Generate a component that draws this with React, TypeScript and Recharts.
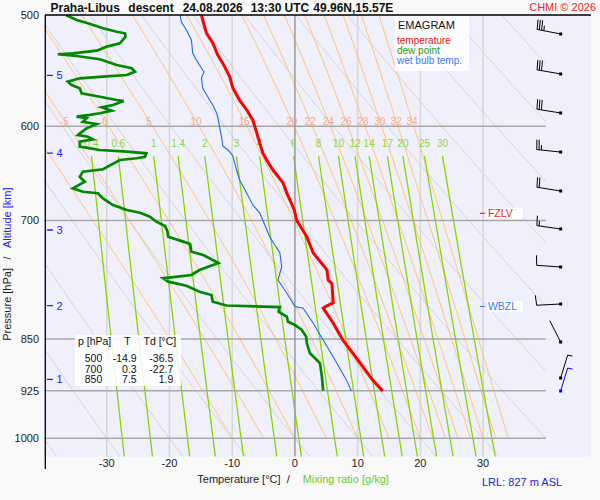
import React from 'react';
import { ComposedChart, Scatter, XAxis, YAxis, CartesianGrid } from 'recharts';

const FONT = '"Liberation Sans", Arial, Helvetica, sans-serif';
const W = 600;
const H = 500;

// sounding, temperature [hPa / °C]
const tempP = [500, 508, 515, 523.5, 534, 541, 553, 563.5, 575, 584, 594, 604, 617, 627, 634, 644.5, 658, 669, 688, 700, 719, 738, 759, 772, 776, 801, 805, 808, 828, 851, 884, 909, 925.5];
const tempT = [-14.9, -14.5, -14.1, -13.1, -12.3, -11.5, -10.4, -9.9, -8.8, -7.7, -6.7, -6.2, -5.6, -5.1, -4.5, -3.5, -1.9, -1.3, -0.1, 0.3, 1.9, 2.9, 5.1, 5.3, 5.9, 6.1, 5.1, 4.5, 6.1, 7.6, 10.4, 12.4, 14.0];

// dew point
const dewP = [500, 504.1, 506.8, 511.0, 513.9, 515.2, 518.1, 523.7, 526.6, 530.1,
  532.4, 533.2, 534.7, 537.6, 542.7, 545.6, 548.7, 551.6, 553.1, 554.6,
  557.7, 560.7, 563.8, 568.4, 571.6, 574.7, 575.6, 579.4, 581.6, 584.8,
  587.3, 588.9, 590.6, 592.1, 595.5, 597.7, 602.0, 606.9, 608.6, 610.3,
  612.9, 615.3, 620.3, 623.7, 625.4, 627.1, 630.6, 632.2, 634.0, 643.7,
  646.2, 651.6, 656.9, 664.1, 667.8, 669.5, 675.1, 682.5, 688.1, 691.2,
  695.7, 701.4, 706.4, 713.0, 718.8, 724.7, 727.5, 736.8, 740.7, 750.5,
  759.2, 765.4, 769.5, 773.8, 778.9, 786.6, 790.9, 799.6, 804.6, 806.6,
  812.8, 819.5, 826.2, 830.7, 837.5, 846.8, 856.0, 870.1, 879.6, 884.4,
  904.0, 925.0];
const dewT = [-36.5, -34.8, -33.0, -30.6, -28.4, -27.1, -27.0, -27.9, -30.0, -31.6,
  -35.4, -37.8, -34.8, -31.1, -28.4, -26.0, -25.5, -26.8, -30.6, -34.3,
  -36.2, -35.6, -34.3, -34.0, -31.1, -28.4, -27.3, -29.0, -30.8, -29.2,
  -31.1, -32.7, -34.8, -33.2, -33.8, -31.6, -33.2, -34.3, -34.6, -33.0,
  -32.2, -34.3, -34.3, -31.1, -26.8, -23.7, -23.9, -25.2, -27.9, -30.6,
  -33.8, -34.3, -33.5, -35.4, -33.8, -31.4, -30.6, -29.0, -26.8, -24.7,
  -23.1, -22.1, -20.7, -20.3, -20.2, -17.8, -16.7, -16.5, -14.6, -12.2,
  -15.2, -16.5, -21.0, -20.2, -17.3, -15.2, -13.3, -13.1, -10.9, -2.4,
  -2.6, -1.3, -1.1, 0.0, 1.1, 1.8, 1.9, 2.4, 3.5, 4.0,
  4.3, 4.5];

// wet bulb temperature
const wetP = [500, 505.8, 512.4, 520.9, 532.1, 538.2, 548.9, 554.3, 563.5, 573.7,
  579.4, 588, 600.6, 610.6, 619.6, 624.7, 629.9, 644.5, 655.1, 669.2,
  682.5, 691.5, 705.2, 719.2, 728.7, 738.3, 755.4, 771.6, 788.3, 805.9,
  808.2, 828, 851.3, 879.6, 908.8, 925.5];
const wetT = [-18.3, -18.1, -17.3, -16.5, -16.3, -15.7, -14.5, -14.9, -14.7, -13.7,
  -13.1, -12.4, -12.0, -11.7, -11.5, -10.5, -9.9, -9.3, -8.8, -7.7,
  -6.7, -5.6, -4.8, -4.0, -3.2, -2.4, -2.1, -2.7, -1.3, 0,
  1.3, 2.9, 4.5, 6.4, 8.2, 9.0];

// wind (pressure, direction deg, speed kt); last one is the launch level
const windP = [515.8, 550.7, 587, 625.8, 667, 709.8, 755.4, 802.6, 854.1, 906, 925.5];
const windDir = [281, 280, 279, 276, 279, 278, 274, 267, 333, 17, 17];
const windSpd = [35, 30, 30, 25, 20, 15, 10, 10, 2, 5, 5];

// altitude marks [km] and their pressure
const altKm = [1, 2, 3, 4, 5];
const altP = [907.9, 804.8, 711, 626.8, 551.9];

// freezing level, wet bulb zero level
const levelNames = ['FZLV', 'WBZL'];
const levelP = [691.8, 805.9];

// table
const tableP = [500, 700, 850];
const tableT = ['-14.9', '0.3', '7.5'];
const tableTd = ['-36.5', '-22.7', '1.9'];

// axes and diagram grid
const tempTicks = [-30, -20, -10, 0, 10, 20, 30];
const pressureTicks = [500, 600, 700, 850, 925, 1000];
const isobars = [600, 700, 850, 925, 1000];
const isotherms = [-30, -20, -10, 10, 20, 30];
const dryThetas = [-40, -30, -20, -10, 0, 10, 20, 30, 40, 50, 60, 70, 80, 90, 100];
const moistThetas = [-10, -5, 0, 5, 10, 15, 20, 22, 24, 26, 28, 30, 32, 34];
const mixRatios = [0.4, 0.6, 1, 1.4, 2, 3, 4, 6, 8, 10, 12, 14, 17, 20, 25, 30];

const T_MIN = -40;
const T_MAX = 47.2;
const T_EDGE = 40;
const P_TOP = 500;
const P_BOT = 1030.6;
const BARB_T = 42.36;
const ALT_T = -39.53;
const LEVEL_T = 29.49;
const MOIST_LABEL_P = 594.7;
const MIX_LABEL_P = 616.5;

type Pt = { t: number; p: number };

const zip = (ps: number[], ts: number[]): Pt[] => ps.map((p, i) => ({ p, t: ts[i] }));

function clipT(pts: Pt[], lo: number, hi: number): Pt[] {
  const out: Pt[] = [];
  for (let i = 0; i < pts.length; i++) {
    const a = pts[i];
    const inA = a.t >= lo && a.t <= hi;
    if (i > 0) {
      const b = pts[i - 1];
      const inB = b.t >= lo && b.t <= hi;
      if (inA !== inB) {
        const o = inA ? b : a;
        const edge = o.t < lo ? lo : hi;
        const f = (edge - b.t) / (a.t - b.t);
        out.push({ t: edge, p: b.p + f * (a.p - b.p) });
      }
    }
    if (inA) out.push(a);
  }
  return out;
}

function dryAdiabat(thC: number): Pt[] {
  const pts: Pt[] = [];
  for (let p = P_TOP; p < P_BOT; p += 10) pts.push({ p, t: (thC + 273.15) * Math.pow(p / 1000, 0.2857) - 273.15 });
  pts.push({ p: P_BOT, t: (thC + 273.15) * Math.pow(P_BOT / 1000, 0.2857) - 273.15 });
  return clipT(pts, T_MIN, T_EDGE);
}

function moistRate(T: number, p: number) {
  const es = 6.112 * Math.exp((17.67 * (T - 273.15)) / (T - 29.65));
  const rs = (0.622 * es) / (p - es);
  return (287.04 * T + 2.501e6 * rs) / (p * (1005.7 + (2.501e6 * 2.501e6 * rs * 0.622) / (287.04 * T * T)));
}

function moistAdiabat(twC: number): Pt[] {
  const pts: Pt[] = [{ p: 1000, t: twC }];
  let T = twC + 273.15;
  let p = 1000;
  const dp = -5;
  while (p > P_TOP + 0.1) {
    const k1 = moistRate(T, p);
    const k2 = moistRate(T + (k1 * dp) / 2, p + dp / 2);
    T += k2 * dp;
    p += dp;
    if (Math.round(p) % 10 === 0) pts.push({ p, t: T - 273.15 });
  }
  return pts;
}

function mixTd(w: number, p: number) {
  const e = (w * p) / (622 + w);
  const l = Math.log(e / 6.112);
  return (243.5 * l) / (17.67 - l);
}

function mixLine(w: number): Pt[] {
  const pts: Pt[] = [];
  for (let p = 630; p < P_BOT; p += 20) pts.push({ p, t: mixTd(w, p) });
  pts.push({ p: P_BOT, t: mixTd(w, P_BOT) });
  return pts;
}

function tAt(pts: Pt[], p: number) {
  for (let i = 1; i < pts.length; i++) {
    const a = pts[i - 1];
    const b = pts[i];
    if ((a.p - p) * (b.p - p) <= 0) return a.t + ((p - a.p) / (b.p - a.p)) * (b.t - a.t);
  }
  return NaN;
}

const dryLines = dryThetas.map(dryAdiabat);
const moistRaw = moistThetas.map(moistAdiabat);
const moistLines = moistRaw.map((c) => clipT(c, T_MIN, T_EDGE));
const mixLines = mixRatios.map(mixLine);

const moistLabels = moistThetas
  .map((th, i) => ({ t: tAt(moistRaw[i], MOIST_LABEL_P), p: MOIST_LABEL_P, label: String(th) }))
  .filter((d) => d.t > -39 && d.t < 40);
const mixLabels = mixRatios.map((w) => ({ t: mixTd(w, 630), p: MIX_LABEL_P, label: String(w) }));

const tempLine = zip(tempP, tempT);
const dewLine = zip(dewP, dewT);
const wetLine = zip(wetP, wetT);
const windData = windP.map((p, i) => ({ p, t: BARB_T, dir: windDir[i], spd: windSpd[i], surface: i === windP.length - 1 }));
const altData = altP.map((p, i) => ({ p, t: ALT_T, km: altKm[i] }));
const levelData = levelP.map((p, i) => ({ p, t: LEVEL_T, name: levelNames[i], color: i === 0 ? '#ff2020' : '#3a78ff' }));

const noDot = () => <g />;

const textShape = (color: string, size: number) => (props: any) => {
  if (props.cx == null) return <g />;
  return (
    <text x={props.cx} y={props.cy + size * 0.36} textAnchor="middle" fontSize={size} fill={color} fontFamily={FONT}>
      {props.payload.label}
    </text>
  );
};

const altShape = (props: any) => (
  <g>
    <line x1={props.cx} y1={props.cy} x2={props.cx + 6} y2={props.cy} stroke="#2020ff" strokeWidth={1.3} />
    <text x={props.cx + 9.5} y={props.cy + 3.9} fontSize={11} fill="#2020ff" fontFamily={FONT}>
      {props.payload.km}
    </text>
  </g>
);

const levelShape = (props: any) => {
  const { cx, cy, payload } = props;
  return (
    <g>
      <line x1={cx} y1={cy} x2={cx + 5} y2={cy} stroke={payload.color} strokeWidth={1.2} />
      <rect x={cx + 7} y={cy - 5.5} width={36} height={11} fill="#ffffff" />
      <text x={cx + 8} y={cy + 3.7} fontSize={10.5} fill={payload.color} fontFamily={FONT}>
        {payload.name}
      </text>
    </g>
  );
};

const windShape = (props: any) => {
  const { cx, cy, payload } = props;
  if (cx == null) return <g />;
  const color = payload.surface ? '#0000ff' : '#000000';
  const a = (payload.dir * Math.PI) / 180;
  const ux = Math.sin(a);
  const uy = -Math.cos(a);
  const tx = cx + 24 * ux;
  const ty = cy + 24 * uy;
  const b = ((payload.dir + 85) * Math.PI) / 180;
  const bx = Math.sin(b);
  const by = -Math.cos(b);
  const segs: React.ReactNode[] = [];
  let rest = payload.spd;
  let k = 0;
  while (rest >= 7.5) {
    const px = tx - k * 2.3 * ux;
    const py = ty - k * 2.3 * uy;
    segs.push(<line key={'f' + k} x1={px} y1={py} x2={px + 10 * bx} y2={py + 10 * by} />);
    rest -= 10;
    k++;
  }
  if (rest >= 2.5) {
    const px = tx - k * 2.3 * ux;
    const py = ty - k * 2.3 * uy;
    segs.push(<line key="h" x1={px} y1={py} x2={px + 5 * bx} y2={py + 5 * by} />);
  }
  return (
    <g stroke={color} strokeWidth={1} fill="none">
      <line x1={cx} y1={cy} x2={tx} y2={ty} />
      {segs}
      <rect x={cx - 1.5} y={cy - 1.5} width={3} height={3} fill={color} stroke="none" />
    </g>
  );
};

const renderXTick = (props: any) => (
  <text x={props.x} y={466.6} textAnchor="middle" fontSize={11} fill="#222" fontFamily={FONT}>
    {props.payload.value}
  </text>
);

const renderYTick = (props: any) => (
  <text x={39} y={props.y + 3.9} textAnchor="end" fontSize={11} fill="#222" fontFamily={FONT}>
    {props.payload.value}
  </text>
);

function curve(key: string, data: any[], stroke: string, width: number) {
  return (
    <Scatter
      key={key}
      data={data}
      line={{ stroke, strokeWidth: width }}
      shape={noDot}
      legendType="none"
      isAnimationActive={false}
    />
  );
}

export default function App() {
  return (
    <div style={{ position: 'absolute', left: 0, top: 0, width: W, height: H, background: '#f9f9f9', fontFamily: FONT }}>
      <ComposedChart width={W} height={H} margin={{ top: 15, right: 9, bottom: 0, left: 0 }}>
        <CartesianGrid horizontal={false} vertical={false} fill="#f0f0fc" stroke="none" />
        <XAxis
          type="number"
          dataKey="t"
          domain={[T_MIN, T_MAX]}
          allowDataOverflow
          ticks={tempTicks}
          interval={0}
          height={43.3}
          axisLine={false}
          tickLine={false}
          tickSize={0}
          tick={renderXTick}
        />
        <YAxis
          type="number"
          dataKey="p"
          scale="log"
          domain={[P_TOP, P_BOT]}
          allowDataOverflow
          reversed
          ticks={pressureTicks}
          interval={0}
          width={44}
          axisLine={false}
          tickLine={false}
          tickSize={0}
          tick={renderYTick}
        />
        {isotherms.map((t) => curve('it' + t, [{ t, p: P_TOP }, { t, p: P_BOT }], '#d6d6d6', 1.5))}
        {dryLines.map((d, i) => curve('dry' + i, d, '#d4d4d4', 1))}
        {moistLines.map((d, i) => curve('moist' + i, d, '#ffc27a', 1))}
        {mixLines.map((d, i) => curve('mix' + i, d, '#88d400', 1.3))}
        {isobars.map((p) => curve('ib' + p, [{ t: T_MIN, p }, { t: T_EDGE, p }], '#a8a8a8', 1.5))}
        {curve('zero', [{ t: 0, p: P_TOP }, { t: 0, p: P_BOT }], '#999999', 1.5)}
        <Scatter data={moistLabels} shape={textShape('#f5a98c', 10)} legendType="none" isAnimationActive={false} />
        <Scatter data={mixLabels} shape={textShape('#8fd43a', 10)} legendType="none" isAnimationActive={false} />
        {curve('wet', wetLine, '#2266ee', 1.1)}
        {curve('dew', dewLine, '#008800', 2.7)}
        {curve('temp', tempLine, '#ff0000', 3)}
        <Scatter data={levelData} shape={levelShape} legendType="none" isAnimationActive={false} />
        <Scatter data={altData} shape={altShape} legendType="none" isAnimationActive={false} />
        <Scatter data={windData} shape={windShape} legendType="none" isAnimationActive={false} />
      </ComposedChart>

      <svg width={W} height={H} style={{ position: 'absolute', left: 0, top: 0, pointerEvents: 'none' }} fontFamily={FONT}>
        <line x1={45} y1={15} x2={591} y2={15} stroke="#000" strokeWidth={1.3} />
        <line x1={45.3} y1={15} x2={45.3} y2={469} stroke="#000" strokeWidth={1.3} />

        <g fontSize={12} fontWeight="bold" fill="#111">
          <text x={50.5} y={11.6}>Praha-Libus</text>
          <text x={128.3} y={11.6}>descent</text>
          <text x={182.7} y={11.6}>24.08.2026</text>
          <text x={250.7} y={11.6}>13:30</text>
          <text x={284.5} y={11.6}>UTC</text>
          <text x={313.3} y={11.6}>49.96N,15.57E</text>
        </g>
        <text x={596} y={10.6} textAnchor="end" fontSize={11} fill="#ff2020">CHMI © 2026</text>

        <rect x={395} y={16} width={74} height={55} fill="#ffffff" fillOpacity={0.85} />
        <text x={398} y={29.4} fontSize={11} fill="#111">EMAGRAM</text>
        <text x={397} y={44} fontSize={10} fill="#ff1010">temperature</text>
        <text x={397} y={54} fontSize={10} fill="#1a9a1a">dew point</text>
        <text x={397} y={64} fontSize={10} fill="#3a78ff">wet bulb temp.</text>

        <rect x={75} y={335} width={106} height={51} fill="#ffffff" fillOpacity={0.85} />
        <g fontSize={10.5} fill="#111">
          <text x={78} y={345}>p [hPa]</text>
          <text x={127.5} y={345} textAnchor="middle">T</text>
          <text x={143.5} y={345}>Td [°C]</text>
          {tableP.map((p, i) => (
            <g key={p}>
              <text x={102.3} y={361.7 + i * 10.8} textAnchor="end">{p}</text>
              <text x={136.7} y={361.7 + i * 10.8} textAnchor="end">{tableT[i]}</text>
              <text x={173.3} y={361.7 + i * 10.8} textAnchor="end">{tableTd[i]}</text>
            </g>
          ))}
        </g>

        <g fontSize={11}>
          <text x={197.3} y={483.3} fill="#222">Temperature [°C]</text>
          <text x={288.3} y={483.3} fill="#222" textAnchor="middle">/</text>
          <text x={302.7} y={483.3} fill="#66cc33">Mixing ratio [g/kg]</text>
          <text x={482} y={485.6} fill="#2222dd">LRL: 827 m ASL</text>
        </g>

        <g transform="rotate(-90)" fontSize={11}>
          <text x={-268} y={10.9} textAnchor="end" fill="#222">Pressure [hPa]</text>
          <text x={-258} y={10.9} textAnchor="middle" fill="#222">/</text>
          <text x={-248} y={10.9} fill="#2222ff">Altitude [km]</text>
        </g>
      </svg>
    </div>
  );
}
